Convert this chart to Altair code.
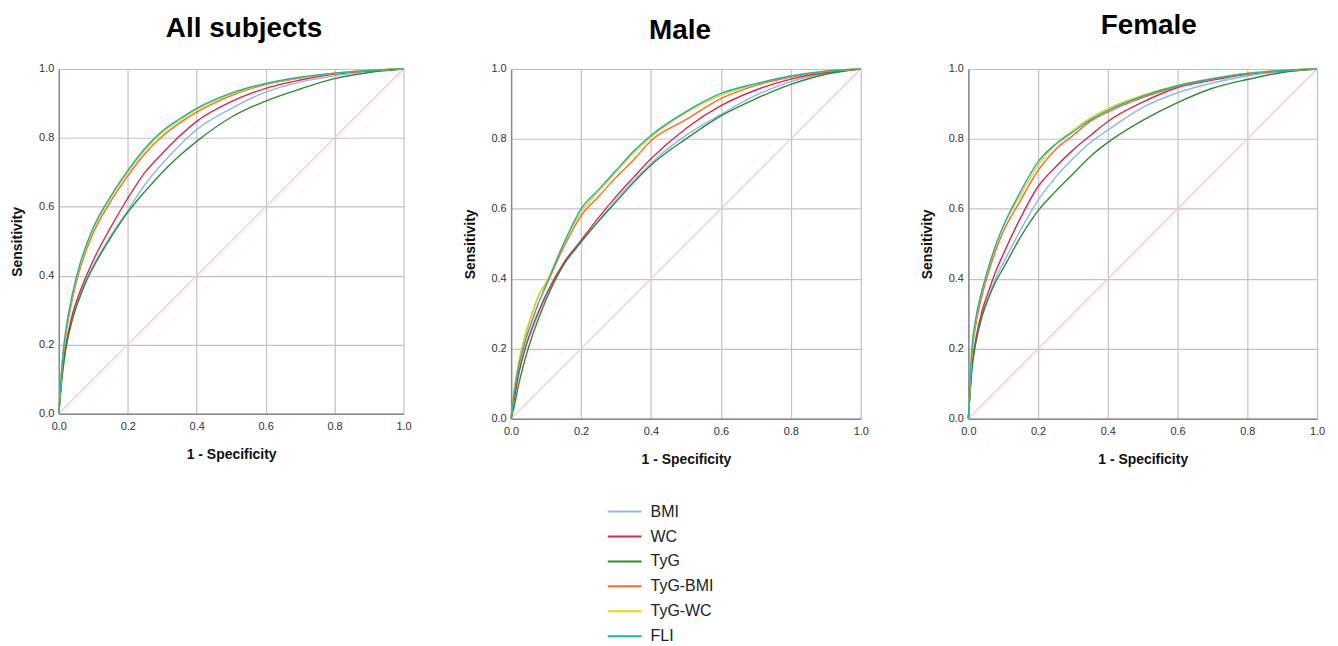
import altair as alt
import pandas as pd

# ---------------- data ----------------
fpr = [0, 0.01, 0.02, 0.04, 0.06, 0.08, 0.1, 0.15, 0.2, 0.25, 0.3, 0.35, 0.4,
       0.5, 0.6, 0.7, 0.8, 0.9, 1.0]

series_names = ["BMI", "WC", "TyG", "TyG-BMI", "TyG-WC", "FLI"]
series_colors = ["#8db8ec", "#d8284f", "#2e8b34", "#fa6a2a", "#e2d81a", "#1fb3a8"]

panel_keys = ["all", "male", "female"]
panel_titles = ["All subjects", "Male", "Female"]

all_bmi = [0, .12, .19, .28, .34, .39, .43, .515, .59, .665, .725, .778, .824, .885, .933, .962, .980, .993, 1]
all_wc = [0, .12, .195, .29, .35, .40, .445, .54, .625, .70, .755, .805, .848, .905, .944, .968, .985, .995, 1]
all_tyg = [0, .11, .185, .275, .335, .385, .425, .51, .584, .645, .70, .748, .79, .86, .907, .942, .972, .99, 1]
all_tyg_bmi = [0, .14, .225, .335, .415, .475, .525, .615, .69, .755, .805, .843, .875, .923, .955, .974, .987, .996, 1]
all_tyg_wc = [0, .15, .235, .345, .425, .485, .535, .625, .70, .765, .815, .85, .882, .927, .957, .975, .988, .996, 1]
all_fli = [0, .15, .24, .35, .43, .49, .54, .63, .705, .77, .82, .855, .886, .93, .958, .976, .988, .996, 1]

male_bmi = [0, .07, .12, .20, .255, .305, .35, .44, .505, .565, .625, .68, .73, .81, .87, .925, .964, .988, 1]
male_wc = [0, .06, .12, .20, .26, .31, .355, .445, .51, .575, .635, .69, .743, .83, .895, .94, .971, .99, 1]
male_tyg = [0, .04, .09, .17, .235, .29, .34, .44, .505, .565, .62, .675, .725, .80, .866, .915, .956, .985, 1]
male_tyg_bmi = [0, .09, .15, .235, .30, .355, .385, .49, .58, .635, .69, .74, .795, .855, .915, .953, .977, .993, 1]
male_tyg_wc = [0, .09, .15, .24, .30, .355, .39, .50, .59, .65, .705, .76, .805, .875, .925, .957, .98, .994, 1]
male_fli = [0, .08, .14, .22, .28, .335, .38, .50, .60, .655, .71, .765, .81, .878, .93, .958, .98, .994, 1]

female_bmi = [0, .14, .21, .30, .355, .405, .445, .54, .625, .69, .744, .79, .825, .89, .932, .96, .98, .993, 1]
female_wc = [0, .15, .22, .31, .37, .425, .47, .575, .664, .72, .768, .81, .85, .905, .947, .968, .985, .995, 1]
female_tyg = [0, .14, .21, .295, .35, .395, .43, .52, .595, .65, .70, .75, .79, .853, .904, .945, .97, .99, 1]
female_tyg_bmi = [0, .18, .26, .355, .425, .485, .535, .625, .71, .77, .81, .85, .877, .918, .95, .971, .987, .996, 1]
female_tyg_wc = [0, .19, .275, .37, .44, .50, .55, .64, .725, .785, .825, .86, .887, .925, .953, .973, .988, .996, 1]
female_fli = [0, .20, .28, .37, .44, .50, .55, .65, .735, .785, .82, .855, .882, .922, .952, .972, .987, .996, 1]

ref_fpr = [0, 1]
ref_tpr = [0, 1]

series_by_panel = {
    "all": [all_bmi, all_wc, all_tyg, all_tyg_bmi, all_tyg_wc, all_fli],
    "male": [male_bmi, male_wc, male_tyg, male_tyg_bmi, male_tyg_wc, male_fli],
    "female": [female_bmi, female_wc, female_tyg, female_tyg_bmi, female_tyg_wc, female_fli],
}

rows = []
for key in panel_keys:
    for name, vals in zip(series_names, series_by_panel[key]):
        for i, (fx, ty) in enumerate(zip(fpr, vals)):
            rows.append({"panel": key, "series": name, "fpr": fx, "tpr": ty, "idx": i})
df = pd.DataFrame(rows)
diag_df = pd.DataFrame({"fpr": ref_fpr, "tpr": ref_tpr})

FONT = "Liberation Sans"
ticks = [0, 0.2, 0.4, 0.6, 0.8, 1.0]


def make_panel(key, title, w, h, t_offset, t_dx, show_legend):
    x_enc = alt.X("fpr:Q", scale=alt.Scale(domain=[0, 1], nice=False, zero=False),
                  axis=alt.Axis(title="1 - Specificity", values=ticks, format=".1f",
                                grid=True, gridColor="#c2c2c2", gridWidth=1.2,
                                domainColor="#8a8a8a", domainWidth=1.5,
                                ticks=False, tickSize=0, labelPadding=7,
                                labelFont=FONT, labelFontSize=11, labelColor="#333333",
                                labelFlush=False,
                                titleFont=FONT, titleFontSize=14, titleFontWeight="bold",
                                titleColor="#111111", titleY=45,
                                titleBaseline="alphabetic"))
    y_enc = alt.Y("tpr:Q", scale=alt.Scale(domain=[0, 1], nice=False, zero=False),
                  axis=alt.Axis(title="Sensitivity", values=ticks, format=".1f",
                                grid=True, gridColor="#c2c2c2", gridWidth=1.2,
                                domainColor="#8a8a8a", domainWidth=1.5,
                                ticks=False, tickSize=0, labelPadding=5,
                                labelFont=FONT, labelFontSize=11, labelColor="#333333",
                                labelFlush=False,
                                titleFont=FONT, titleFontSize=14, titleFontWeight="bold",
                                titleColor="#111111", titleX=-34,
                                titleBaseline="bottom"))
    if show_legend:
        legend = alt.Legend(title=None, orient="none", legendX=96, legendY=432,
                            symbolType="stroke", symbolSize=1156, symbolStrokeWidth=2,
                            labelFont=FONT, labelFontSize=16, labelColor="#222222",
                            labelOffset=8, clipHeight=24.6, rowPadding=0, padding=0)
    else:
        legend = None
    diag = alt.Chart(diag_df).mark_line(color="#ffc0cb", strokeWidth=1.2).encode(
        x=x_enc, y=y_enc)
    lines = alt.Chart(df[df.panel == key]).mark_line(
        strokeWidth=1.4, interpolate="monotone").encode(
        x=x_enc, y=y_enc,
        color=alt.Color("series:N",
                        scale=alt.Scale(domain=series_names, range=series_colors),
                        sort=series_names, legend=legend),
        order=alt.Order("idx:Q"))
    return alt.layer(diag, lines).properties(
        width=w, height=h,
        title=alt.TitleParams(title, font=FONT, fontSize=28, fontWeight="bold",
                              color="black", anchor="middle", frame="group",
                              baseline="alphabetic", offset=t_offset, dx=t_dx))


p1 = make_panel("all", panel_titles[0], 346, 346, -2, 13, False)
p2 = make_panel("male", panel_titles[1], 351, 351, -4, -6, True)
p3 = make_panel("female", panel_titles[2], 350, 351, 1, 6, False)

chart = alt.hconcat(p1, p2, p3, spacing=108, bounds="flush").resolve_scale(
    color="independent").properties(
    padding={"left": 3, "top": 3, "right": 5, "bottom": 5},
    background="white").configure_view(stroke=None)

chart.save("out.html", embed_options={"renderer": "svg", "actions": False})
